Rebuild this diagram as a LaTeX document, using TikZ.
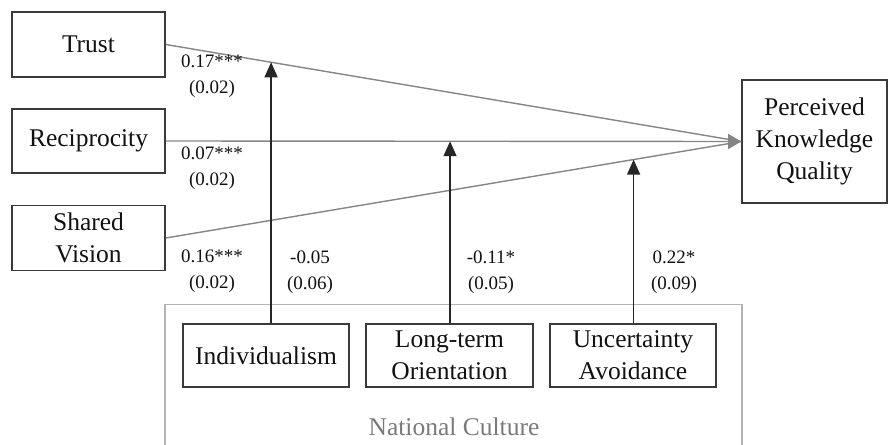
\documentclass[tikz,border=0pt]{standalone}
\usepackage{fontspec}
\setmainfont{Liberation Serif}
\usetikzlibrary{arrows.meta,calc}
\definecolor{boxline}{HTML}{3A3A3A}
\definecolor{txt}{HTML}{111111}
\definecolor{path}{HTML}{858585}
\definecolor{outer}{HTML}{B4B4B4}
\definecolor{outertxt}{HTML}{7A7A7A}
\tikzset{
  varbox/.style={draw=boxline, line width=1.6pt, rectangle, inner sep=0pt, align=center,
    text=txt, font=\fontsize{25.5}{32}\selectfont},
  coef/.style={align=center, text=txt, inner sep=0pt, font=\fontsize{19}{25.5}\selectfont},
  pathline/.style={draw=path, line width=1.4pt},
  modarrow/.style={draw=black!85, line width=1.4pt, -{Triangle[length=15pt,width=13pt]}}
}
\begin{document}
\begin{tikzpicture}[x=1pt,y=-1pt]
\useasboundingbox (0,0) rectangle (888,444);
% national culture frame
\draw[outer, line width=1.3pt] (165,446) -- (165,304.5) -- (742,304.5) -- (742,446);
\node[text=outertxt, font=\fontsize{25.5}{30}\selectfont, inner sep=0pt] (nc) at (454,427) {National Culture};
% predictor boxes
\node[varbox, minimum width=153pt, minimum height=65pt] (trust) at (88.5,44.5) {Trust};
\node[varbox, minimum width=153pt, minimum height=64pt] (recip) at (88.5,141) {Reciprocity};
\node[varbox, minimum width=153pt, minimum height=65pt] (shared) at (88.5,238) {Shared\\Vision};
% outcome
\node[varbox, minimum width=145pt, minimum height=123pt] (pkq) at (814.5,141.5) {Perceived\\Knowledge\\Quality};
% moderators
\node[varbox, minimum width=166pt, minimum height=63pt] (ind) at (266,355.5) {Individualism};
\node[varbox, minimum width=167pt, minimum height=63pt] (lto) at (449.5,355.5) {Long-term\\Orientation};
\node[varbox, minimum width=166pt, minimum height=63pt] (uai) at (633,355.5) {Uncertainty\\Avoidance};
% direct paths
\coordinate (tip) at (pkq.west);
\draw[pathline] (trust.east) -- (tip);
\draw[pathline] (shared.east) -- (tip);
\draw[pathline, -{Triangle[length=13pt,width=15pt]}] (recip.east) -- (tip);
% moderation targets
\coordinate (tA) at ($(trust.east)!0.183!(tip)$);
\coordinate (tB) at ($(recip.east)!0.494!(tip)$);
\coordinate (tC) at ($(shared.east)!0.813!(tip)$);
\draw[modarrow] (tA |- ind.north) -- (tA);
\draw[modarrow] (tB |- lto.north) -- (tB);
\draw[modarrow] (tC |- uai.north) -- (tC);
% coefficients
\node[coef] (c1) at (212,76) {0.17***\\(0.02)};
\node[coef] (c2) at (212,168) {0.07***\\(0.02)};
\node[coef] (c3) at (212,271) {0.16***\\(0.02)};
\node[coef] (c4) at (310,272) {-0.05\\(0.06)};
\node[coef] (c5) at (491,272) {-0.11*\\(0.05)};
\node[coef] (c6) at (674,272) {0.22*\\(0.09)};
\end{tikzpicture}
\end{document}
